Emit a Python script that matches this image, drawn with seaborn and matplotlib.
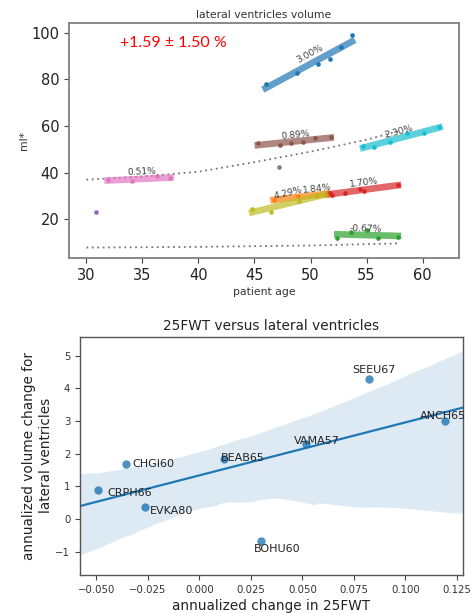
import numpy as np
import pandas as pd
import matplotlib
matplotlib.use('Agg')
import matplotlib.pyplot as plt
import matplotlib.transforms as mtransforms
import seaborn as sns

# ---- top panel: lateral ventricle volume per subject (age, ml*) ----
blue_age = [46.0, 48.8, 50.7, 51.7, 52.7, 53.7]
blue_vol = [77.9, 82.9, 86.4, 88.9, 94.0, 98.9]
brown_age = [45.3, 47.3, 48.3, 49.3, 50.4, 51.8]
brown_vol = [52.9, 51.9, 52.6, 53.1, 55.0, 55.4]
cyan_age = [54.7, 55.7, 57.1, 58.6, 60.1, 61.5]
cyan_vol = [51.6, 51.0, 53.0, 56.9, 56.9, 59.6]
pink_age = [31.9, 34.1, 36.3, 37.5]
pink_vol = [37.0, 36.3, 38.4, 37.6]
olive_age = [44.8, 46.5, 49.0, 50.6, 51.3]
olive_vol = [24.4, 23.1, 28.0, 30.4, 30.6]
orange_age = [46.7, 48.9, 50.6, 51.4]
orange_vol = [28.3, 29.9, 30.0, 31.2]
red_age = [51.7, 51.9, 53.1, 54.4, 54.8, 57.8]
red_vol = [31.4, 30.4, 31.4, 32.9, 32.3, 34.7]
green_age = [52.4, 53.6, 55.0, 56.0, 57.8]
green_vol = [11.9, 14.7, 15.4, 11.9, 12.4]
purple_age = [30.9]
purple_vol = [23.0]
gray_age = [47.2]
gray_vol = [42.6]

rate_labels = {'C0': '3.00%', 'C5': '0.89%', 'C9': '2.30%', 'C6': '0.51%',
               'C8': '4.29%', 'C1': '1.84%', 'C3': '1.70%', 'C2': '-0.67%'}
# small nudges (points) for the rate labels
label_nudge = {'C0': (-4, 0), 'C1': (10, 1), 'C3': (7, 1.5), 'C8': (-3, 2)}

# normative curves (dotted)
norm_age = [30, 35, 40, 45, 50, 55, 58]
norm_upper = [37.0, 38.3, 40.4, 44.5, 49.0, 54.1, 58.0]
norm_lower_age = [30, 40, 50, 58]
norm_lower = [7.9, 8.2, 8.8, 9.7]

summary_text = '+1.59 ± 1.50 %'

# ---- bottom panel: 25FWT vs lateral ventricles ----
subjects = ['CHGI60', 'CRPH66', 'EVKA80', 'BEAB65', 'BOHU60', 'VAMA57', 'SEEU67', 'ANCH65']
fwt_change = [-0.0356, -0.0492, -0.0262, 0.0119, 0.0297, 0.0516, 0.0825, 0.1193]
vol_change = [1.69, 0.89, 0.36, 1.83, -0.67, 2.30, 4.29, 2.99]
# label offsets in points (text centre relative to point)
label_offsets = [(20, 0), (23, -2), (19, -2.5), (13.5, 1), (12, -5.5), (8, 2), (3, 6.5), (-1.5, 4)]

fig = plt.figure(figsize=(4.75, 6.13), dpi=100)
ax1 = fig.add_axes([0.1453, 0.5786, 0.821, 0.3834])
ax2 = fig.add_axes([0.1684, 0.062, 0.8063, 0.3888])

# top panel
ax1.set_xlim(28.45, 63.25)
ax1.set_ylim(3.3, 104)
sns.lineplot(x=norm_age, y=norm_upper, ax=ax1, color='#777777', lw=1.3,
             linestyle=(0, (1, 2)))
sns.lineplot(x=norm_lower_age, y=norm_lower, ax=ax1, color='#777777', lw=1.3,
             linestyle=(0, (1, 2)))

groups = [('C0', blue_age, blue_vol), ('C1', orange_age, orange_vol),
          ('C2', green_age, green_vol), ('C3', red_age, red_vol),
          ('C5', brown_age, brown_vol), ('C6', pink_age, pink_vol),
          ('C8', olive_age, olive_vol), ('C9', cyan_age, cyan_vol)]
for col, ages, vols in groups:
    sns.regplot(x=np.array(ages), y=np.array(vols), ax=ax1, ci=None, color=col,
                scatter_kws={'s': 11, 'alpha': 1, 'linewidths': 0},
                line_kws={'lw': 4.8, 'alpha': 0.7})
for col, ages, vols in [('C4', purple_age, purple_vol), ('C7', gray_age, gray_vol)]:
    sns.scatterplot(x=ages, y=vols, ax=ax1, color=col, s=11, linewidth=0)

for col, ages, vols in groups:
    slope, icpt = np.polyfit(ages, vols, 1)
    xm = np.mean(ages)
    dx, dy = label_nudge.get(col, (0, 0))
    off = mtransforms.offset_copy(ax1.transData, fig=fig, x=dx, y=1.5 + dy, units='points')
    ax1.text(xm, slope * xm + icpt, rate_labels[col], transform=off,
             rotation=np.degrees(np.arctan(slope)), transform_rotates_text=True,
             rotation_mode='anchor', ha='center', va='bottom',
             fontsize=6.6, color='#404040')

ax1.text(0.13, 0.915, summary_text, transform=ax1.transAxes, color='red',
         fontsize=11.5, family='Lato', va='center', ha='left')
ax1.set_title('lateral ventricles volume', fontsize=7.8, color='#333333', pad=4)
ax1.set_xlabel('patient age', fontsize=7.8, color='#333333', labelpad=3)
ax1.set_ylabel('ml*', fontsize=7.8, color='#333333', labelpad=2)
ax1.set_xticks([30, 35, 40, 45, 50, 55, 60])
ax1.set_yticks([20, 40, 60, 80, 100])
ax1.tick_params(labelsize=10.5, labelcolor='#222222', color='#444444')
for s in ax1.spines.values():
    s.set_color('#808080')
    s.set_linewidth(1.3)

# bottom panel
ax2.set_xlim(-0.0579, 0.1279)
ax2.set_ylim(-1.71, 5.58)
df = pd.DataFrame({'fwt': fwt_change, 'vol': vol_change, 'id': subjects})
sns.regplot(data=df, x='fwt', y='vol', ax=ax2, truncate=False, seed=3, color='C0',
            scatter_kws={'s': 36, 'linewidths': 0},
            line_kws={'lw': 1.6})
for (xv, yv, name), (dx, dy) in zip(zip(fwt_change, vol_change, subjects), label_offsets):
    ax2.annotate(name, (xv, yv), xytext=(dx, dy), textcoords='offset points',
                 ha='center', va='center', fontsize=8, color='#222222')
ax2.set_xlim(-0.0579, 0.1279)
ax2.set_ylim(-1.71, 5.58)
ax2.set_xticks([-0.05, -0.025, 0, 0.025, 0.05, 0.075, 0.1, 0.125])
ax2.set_xticklabels(['\u22120.050', '\u22120.025', '0.000', '0.025', '0.050',
                     '0.075', '0.100', '0.125'])
ax2.set_yticks([-1, 0, 1, 2, 3, 4, 5])
ax2.set_title('25FWT versus lateral ventricles', fontsize=9.8, color='#222222', pad=5)
ax2.set_xlabel('annualized change in 25FWT', fontsize=9.8, color='#222222', labelpad=3)
ax2.set_ylabel('annualized volume change for\nlateral ventricles', fontsize=9.8,
               color='#222222', labelpad=2)
ax2.tick_params(labelsize=7.3, labelcolor='#333333', color='#444444')
for s in ax2.spines.values():
    s.set_color('#555555')
    s.set_linewidth(1.0)

fig.savefig('out.png', dpi=100)
